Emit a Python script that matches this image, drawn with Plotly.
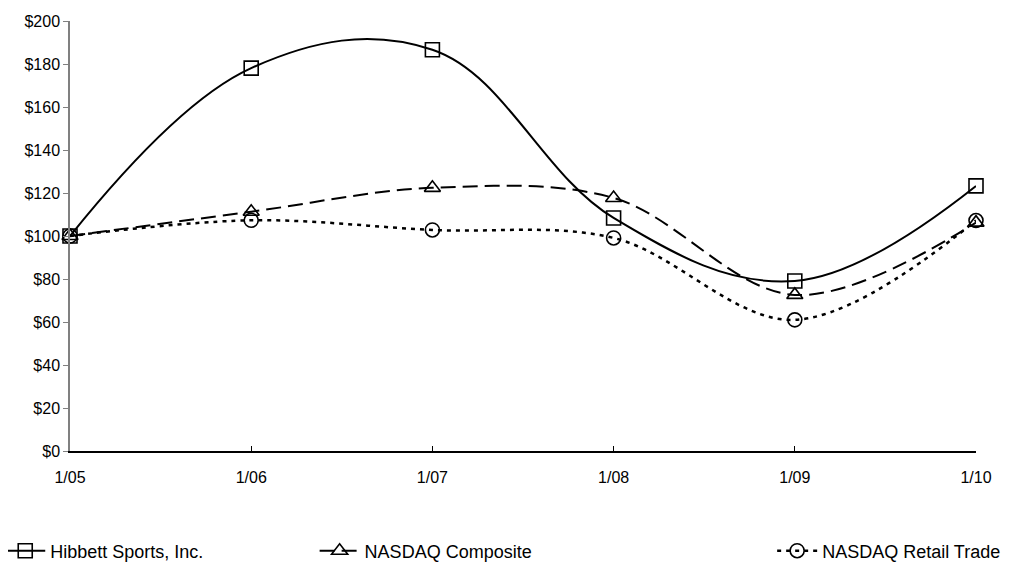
import plotly.graph_objects as go

periods = ["1/05", "1/06", "1/07", "1/08", "1/09", "1/10"]
hibbett = [100, 178.1, 186.6, 108.4, 79.1, 123.3]
nasdaq_comp = [100, 111.3, 122.4, 117.7, 72.6, 106.2]
nasdaq_retail = [100, 107.3, 102.8, 99.1, 61.0, 107.2]
y_ticks = list(range(0, 201, 20))
y_tick_labels = ["$" + str(v) for v in y_ticks]

x = list(range(len(periods)))
font = dict(family="Liberation Sans, Arial, sans-serif", size=16, color="black")
leg_font = dict(family="Liberation Sans, Arial, sans-serif", size=18, color="black")

fig = go.Figure()
fig.add_trace(go.Scatter(
    x=x, y=hibbett, name="Hibbett Sports, Inc.", mode="lines+markers",
    line=dict(color="black", width=2, shape="spline", smoothing=1.1),
    marker=dict(symbol="square-open", size=14, color="black", line=dict(width=1.6)),
    cliponaxis=False, legend="legend"))
fig.add_trace(go.Scatter(
    x=x, y=nasdaq_comp, name="NASDAQ Composite", mode="lines+markers",
    line=dict(color="black", width=2, shape="spline", smoothing=1, dash="15px,7px"),
    marker=dict(symbol="triangle-up-open", size=14, color="black", line=dict(width=1.6)),
    cliponaxis=False, legend="legend2"))
fig.add_trace(go.Scatter(
    x=x, y=nasdaq_retail, name="NASDAQ Retail Trade", mode="lines+markers",
    line=dict(color="black", width=2.5, shape="spline", smoothing=1, dash="4px,5px"),
    marker=dict(symbol="circle-open", size=14, color="black", line=dict(width=1.6)),
    cliponaxis=False, legend="legend3"))

leg_common = dict(orientation="h", yanchor="middle", y=-0.2326, xanchor="left",
                  font=leg_font, bgcolor="rgba(0,0,0,0)", itemwidth=40)
fig.update_layout(
    width=1011, height=566,
    margin=dict(l=62, r=43, t=13, b=123, autoexpand=False),
    paper_bgcolor="white", plot_bgcolor="white",
    font=font,
    showlegend=True,
    legend=dict(x=-0.077, **leg_common),
    legend2=dict(x=0.270, **leg_common),
    legend3=dict(x=0.775, **leg_common),
    xaxis=dict(range=[0, 5], tickvals=x, ticktext=periods, showgrid=False,
               zeroline=False, showline=True, linecolor="black", linewidth=1.5,
               ticks="inside", ticklen=5, tickcolor="black", tickfont=font,
               ticklabelstandoff=11, fixedrange=True),
    yaxis=dict(range=[0, 200], tickvals=y_ticks, ticktext=y_tick_labels, showgrid=False,
               zeroline=False, showline=True, linecolor="#808080", linewidth=1.5,
               ticks="outside", ticklen=5, tickcolor="#808080", tickfont=font,
               fixedrange=True),
)
fig.write_html("out.html")
